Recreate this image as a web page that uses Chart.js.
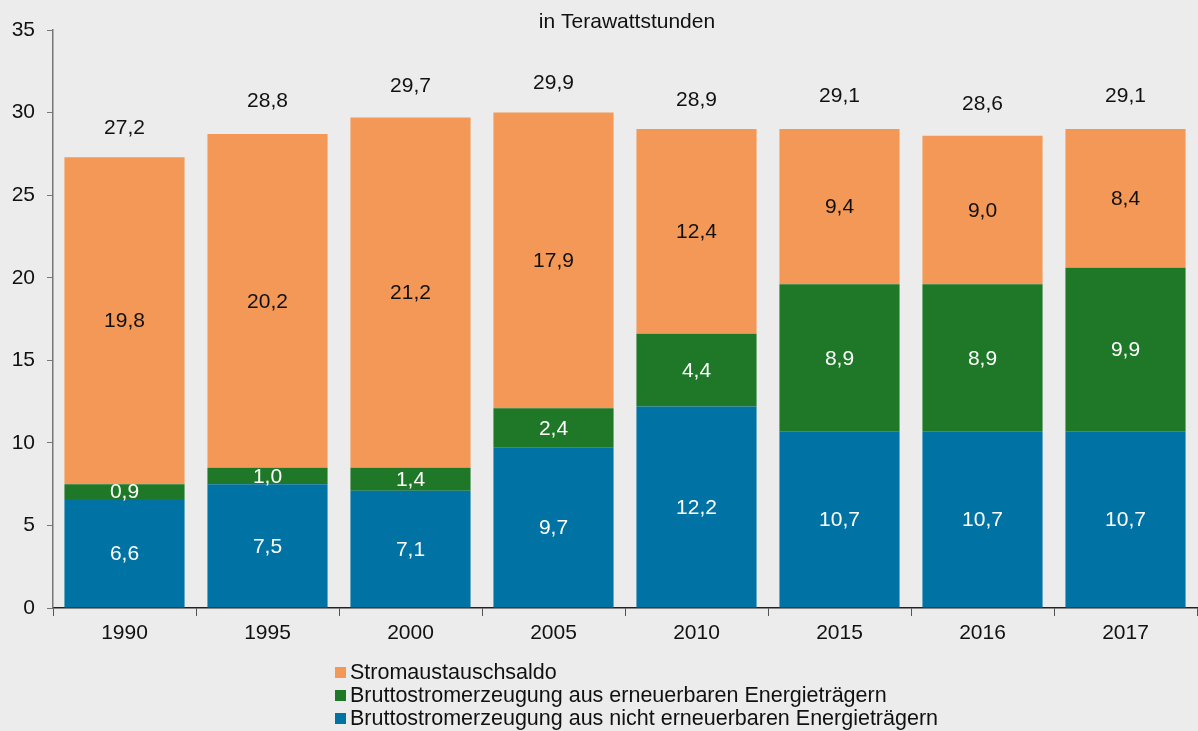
<!DOCTYPE html>
<html>
<head>
<meta charset="utf-8">
<script src="https://cdn.jsdelivr.net/npm/chart.js@4"></script>
<style>
  html, body { margin: 0; padding: 0; background: #ebeceb; }
  #wrap { width: 1198px; height: 731px; }
</style>
</head>
<body>
<div id="wrap"><canvas id="chart" width="1198" height="731"></canvas></div>
<script>
// Werte in TWh
const jahre = ['1990', '1995', '2000', '2005', '2010', '2015', '2016', '2017'];
const nichtErneuerbar = [6.6, 7.5, 7.1, 9.7, 12.2, 10.7, 10.7, 10.7];
const erneuerbar = [0.9, 1.0, 1.4, 2.4, 4.4, 8.9, 8.9, 9.9];
const austauschsaldo = [19.8, 20.2, 21.2, 17.9, 12.4, 9.4, 9.0, 8.4];
const summen = [27.2, 28.8, 29.7, 29.9, 28.9, 29.1, 28.6, 29.1];

const FONT = "'Liberation Sans', Arial, sans-serif";
const fmt = v => v.toFixed(1).replace('.', ',');

// Werte in den Balken + Summen darüber
const labelPlugin = {
  id: 'labels',
  afterDatasetsDraw(chart) {
    const ctx = chart.ctx;
    ctx.save();
    ctx.font = '21px ' + FONT;
    ctx.textAlign = 'center';
    ctx.textBaseline = 'middle';
    chart.data.datasets.forEach((ds, i) => {
      const meta = chart.getDatasetMeta(i);
      meta.data.forEach((bar, j) => {
        ctx.fillStyle = ds.labelColor;
        ctx.fillText(fmt(ds.data[j]), bar.x, (bar.y + bar.base) / 2 + 1);
      });
    });
    const y = chart.scales.y;
    const meta0 = chart.getDatasetMeta(0);
    ctx.fillStyle = '#111';
    summen.forEach((s, j) => {
      ctx.fillText(fmt(s), meta0.data[j].x, y.getPixelForValue(s) - 31);
    });
    // Titel
    ctx.font = '21px ' + FONT;
    ctx.fillText('in Terawattstunden', 627, 22);
    // Legende (umgekehrte Reihenfolge wie im Original)
    ctx.font = '21.5px ' + FONT;
    ctx.textAlign = 'left';
    const items = chart.data.datasets.slice().reverse();
    items.forEach((ds, k) => {
      const yy = 672 + k * 23;
      ctx.fillStyle = ds.backgroundColor;
      ctx.fillRect(335, yy - 5, 11, 11);
      ctx.fillStyle = '#111';
      ctx.fillText(ds.label, 350, yy + 1);
    });
    ctx.restore();
  }
};

new Chart(document.getElementById('chart').getContext('2d'), {
  type: 'bar',
  data: {
    labels: jahre,
    datasets: [
      { label: 'Bruttostromerzeugung aus nicht erneuerbaren Energieträgern', data: nichtErneuerbar,
        backgroundColor: '#0073a4', labelColor: '#ffffff' },
      { label: 'Bruttostromerzeugung aus erneuerbaren Energieträgern', data: erneuerbar,
        backgroundColor: '#1e7828', labelColor: '#ffffff' },
      { label: 'Stromaustauschsaldo', data: austauschsaldo,
        backgroundColor: '#f39856', labelColor: '#111111' }
    ]
  },
  options: {
    responsive: false,
    animation: false,
    layout: { padding: { top: 30, right: 1, left: 0, bottom: 0 } },
    datasets: { bar: { categoryPercentage: 1, barPercentage: 0.84 } },
    plugins: { legend: { display: false }, tooltip: { enabled: false } },
    scales: {
      x: {
        stacked: true,
        afterFit: s => { s.height = 123; },
        grid: { drawOnChartArea: false, drawTicks: true, tickLength: 8, color: '#555', offset: true },
        border: { display: true, color: '#222', width: 1.5 },
        ticks: { color: '#111', font: { family: FONT, size: 21 }, padding: 5 }
      },
      y: {
        stacked: true,
        min: 0, max: 35,
        afterFit: s => { s.width = 53; },
        grid: { drawOnChartArea: false, drawTicks: true, tickLength: 6, color: '#777' },
        border: { display: true, color: '#777', width: 1.5 },
        ticks: { stepSize: 5, color: '#111', font: { family: FONT, size: 21 }, padding: 12 }
      }
    }
  },
  plugins: [labelPlugin]
});
</script>
</body>
</html>
